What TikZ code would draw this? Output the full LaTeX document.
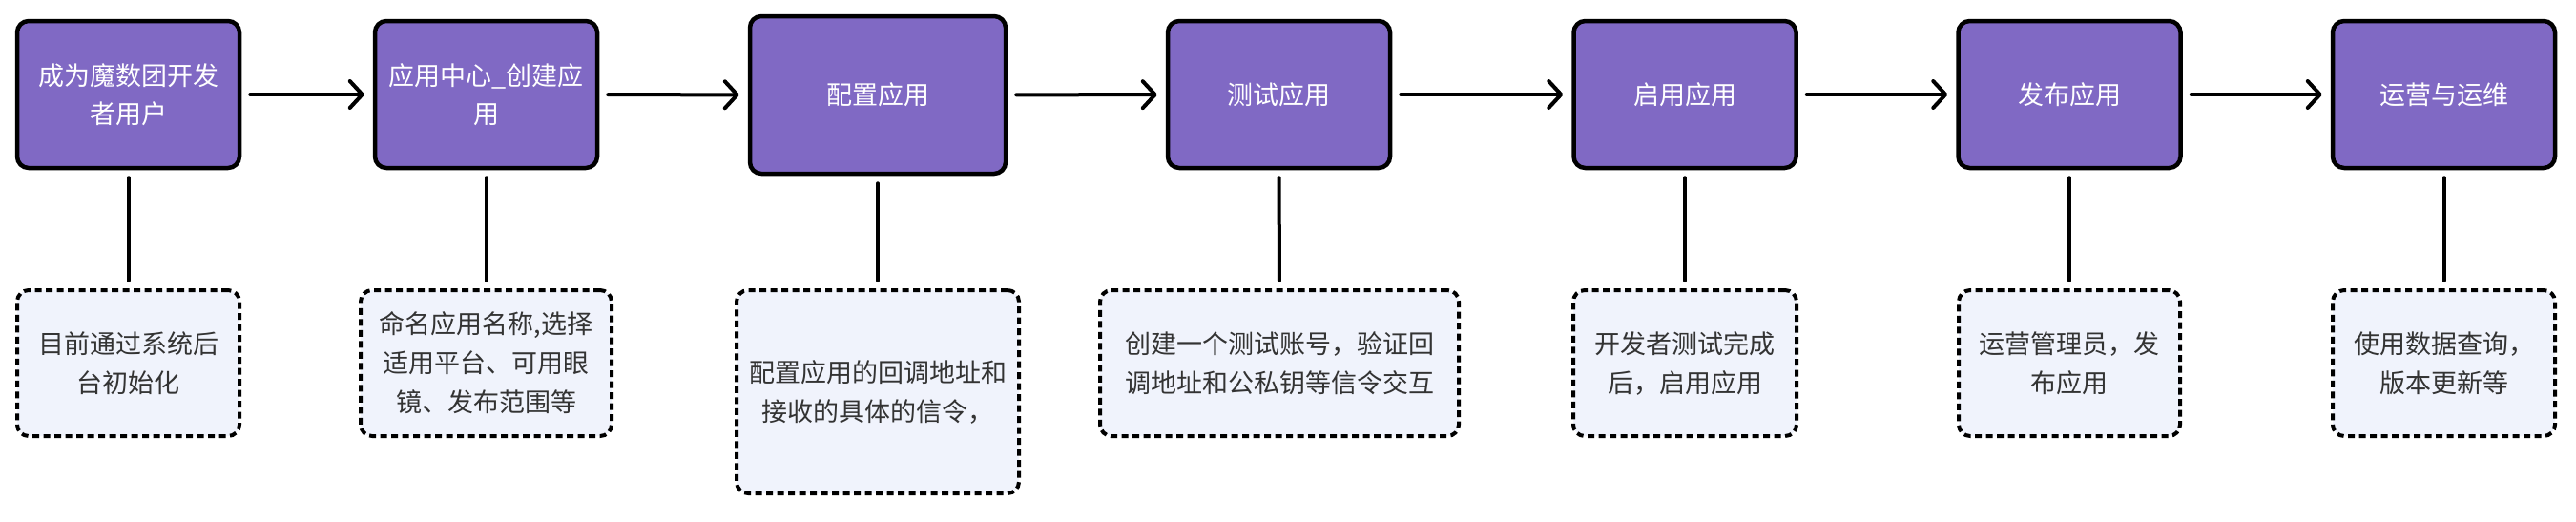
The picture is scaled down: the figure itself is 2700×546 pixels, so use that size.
\documentclass[tikz,border=0pt]{standalone}
\usepackage{fontspec}
\setmainfont{Noto Sans CJK SC}
\usetikzlibrary{arrows.meta}
\definecolor{boxpurple}{HTML}{8069C4}
\definecolor{notefill}{HTML}{F0F3FC}
\definecolor{notetext}{HTML}{333333}
\begin{document}
\begin{tikzpicture}[x=1pt,y=-1pt,
  stepbox/.style={draw=black, line width=4.5pt, fill=boxpurple, rounded corners=12pt,
    text=white, font=\fontsize{27}{40}\selectfont, align=center,
    minimum width=233pt, minimum height=154pt, inner sep=0pt},
  notebox/.style={draw=black, line width=4pt, dash pattern=on 7pt off 4.5pt, fill=notefill,
    rounded corners=12pt, text=notetext, font=\fontsize{27}{41}\selectfont, align=center,
    minimum height=153pt, inner sep=0pt},
  flow/.style={draw=black, line width=4pt, line cap=round,
    -{Straight Barb[length=13pt,width=28pt,round]}, shorten >=9pt, shorten <=9pt},
  link/.style={draw=black, line width=4pt, line cap=round, shorten >=8pt, shorten <=8pt}]
\fill[white] (0,0) rectangle (2700,546);
\useasboundingbox (0,0) rectangle (2700,546);

\node[stepbox] (b1) at (134.5,99) {成为魔数团开发\\者用户};
\node[stepbox] (b2) at (509.5,99) {应用中心\_创建应\\用};
\node[stepbox, minimum width=268pt, minimum height=165pt] (b3) at (920,99.5) {配置应用};
\node[stepbox] (b4) at (1340.5,99) {测试应用};
\node[stepbox] (b5) at (1766,99) {启用应用};
\node[stepbox] (b6) at (2169,99) {发布应用};
\node[stepbox] (b7) at (2561.5,99) {运营与运维};

\node[notebox, minimum width=233pt] (n1) at (134.5,380.5) {目前通过系统后\\台初始化};
\node[notebox, minimum width=263pt] (n2) at (509.5,380.5) {命名应用名称,选择\\适用平台、可用眼\\镜、发布范围等};
\node[notebox, minimum width=296pt, minimum height=213pt] (n3) at (920,410.5) {配置应用的回调地址和\\接收的具体的信令，};
\node[notebox, minimum width=376pt] (n4) at (1341,380.5) {创建一个测试账号，验证回\\调地址和公私钥等信令交互};
\node[notebox, minimum width=234pt] (n5) at (1766,380.5) {开发者测试完成\\后，启用应用};
\node[notebox, minimum width=232pt] (n6) at (2169,380.5) {运营管理员，发\\布应用};
\node[notebox, minimum width=233pt] (n7) at (2561.5,380.5) {使用数据查询，\\版本更新等};

\draw[flow] (b1) -- (b2);
\draw[flow] (b2) -- (b3);
\draw[flow] (b3) -- (b4);
\draw[flow] (b4) -- (b5);
\draw[flow] (b5) -- (b6);
\draw[flow] (b6) -- (b7);

\draw[link] (b1.south) -- (n1.north);
\draw[link] (b2.south) -- (n2.north);
\draw[link] (b3.south) -- (n3.north);
\draw[link] (b4.south) -- (n4.north);
\draw[link] (b5.south) -- (n5.north);
\draw[link] (b6.south) -- (n6.north);
\draw[link] (b7.south) -- (n7.north);
\end{tikzpicture}
\end{document}
